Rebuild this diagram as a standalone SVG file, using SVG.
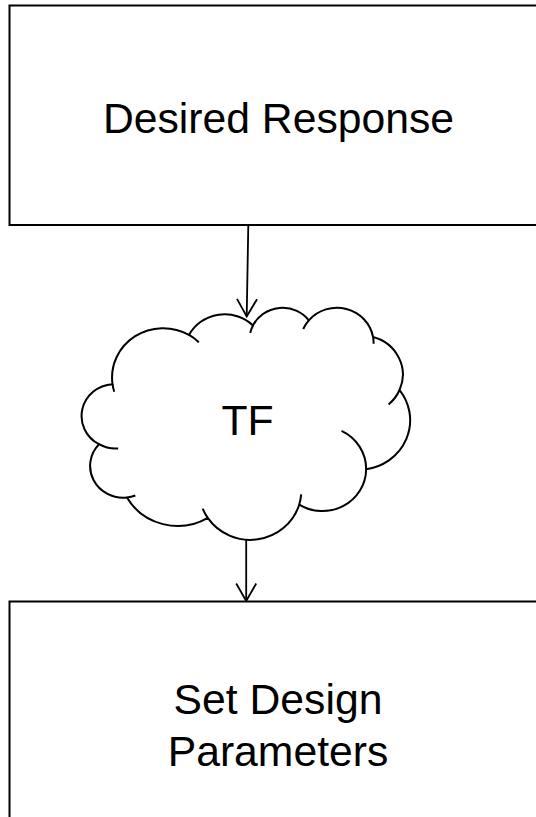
<svg xmlns="http://www.w3.org/2000/svg" width="536" height="817" viewBox="0 0 536 817">
  <style>
    .box { fill: #ffffff; stroke: #000000; stroke-width: 2; }
    .cloud { fill: #ffffff; stroke: #000000; stroke-width: 2; stroke-linejoin: round; }
    .hook { fill: none; stroke: #000000; stroke-width: 2; }
    .lbl { font-family: "Liberation Sans", Arial, sans-serif; font-size: 42.7px; fill: #000000; text-anchor: middle; }
    .conn { fill: none; stroke: #000000; stroke-width: 1.8; }
  </style>
  <defs>
    <marker id="arr" viewBox="-20 -12 24 24" refX="0" refY="0" markerWidth="24" markerHeight="24" orient="auto" markerUnits="userSpaceOnUse" overflow="visible">
      <path d="M-17.5,-10 L0,0 L-17.5,10" fill="none" stroke="#000000" stroke-width="1.8"/>
    </marker>
  </defs>
  <rect width="536" height="817" fill="#ffffff"/>

  <g id="desired-response">
    <rect class="box" x="9.5" y="5.5" width="540" height="219.5"/>
    <text class="lbl" x="278.5" y="132.7">Desired Response</text>
  </g>

  <g id="tf">
    <path class="cloud" d="M112.52,384.17 A51.12,49.35 0 0 1 189.01,334.94 A40.37,39.03 0 0 1 252.98,325.44 A33.04,31.93 0 0 1 308.82,320.33 A36.76,35.42 0 0 1 373.05,336.95 A40.37,39.06 0 0 1 399.55,390.02 A51.28,49.51 0 0 1 366.14,469.20 A43.79,42.25 0 0 1 299.17,504.70 A51.11,49.49 0 0 1 207.77,517.88 A58.44,56.62 0 0 1 126.96,497.51 A33.00,31.78 0 0 1 99.02,444.23 A32.89,31.93 0 0 1 112.52,384.17 Z"/>
    <path class="hook" d="M118.19,448.51 A32.89,31.93 0 0 1 99.02,444.23 M135.35,495.46 A33.00,31.78 0 0 1 126.96,497.51 M207.77,517.88 A51.11,49.49 0 0 1 202.70,508.52 M301.19,494.45 A51.11,49.49 0 0 1 299.17,504.70 M341.53,430.89 A43.79,42.25 0 0 1 366.14,469.20 M399.55,390.02 A40.37,39.06 0 0 1 388.58,404.40 M373.05,336.95 A36.76,35.42 0 0 1 373.63,343.73 M303.21,328.99 A36.76,35.42 0 0 1 308.82,320.33 M250.27,332.90 A33.04,31.93 0 0 1 252.98,325.44 M189.01,334.94 A51.12,49.35 0 0 1 198.85,342.18 M114.24,391.79 A51.12,49.35 0 0 1 112.52,384.17"/>
    <text class="lbl" x="247.6" y="435">TF</text>
  </g>

  <g id="set-design-parameters">
    <rect class="box" x="9.5" y="601.5" width="540" height="220"/>
    <text class="lbl" x="278" y="713.7">Set Design</text>
    <text class="lbl" x="278" y="766">Parameters</text>
  </g>

  <g id="connectors">
    <line class="conn" x1="248.3" y1="225" x2="246.7" y2="316.5" marker-end="url(#arr)"/>
    <line class="conn" x1="246.2" y1="540" x2="246.2" y2="601" marker-end="url(#arr)"/>
  </g>
</svg>
